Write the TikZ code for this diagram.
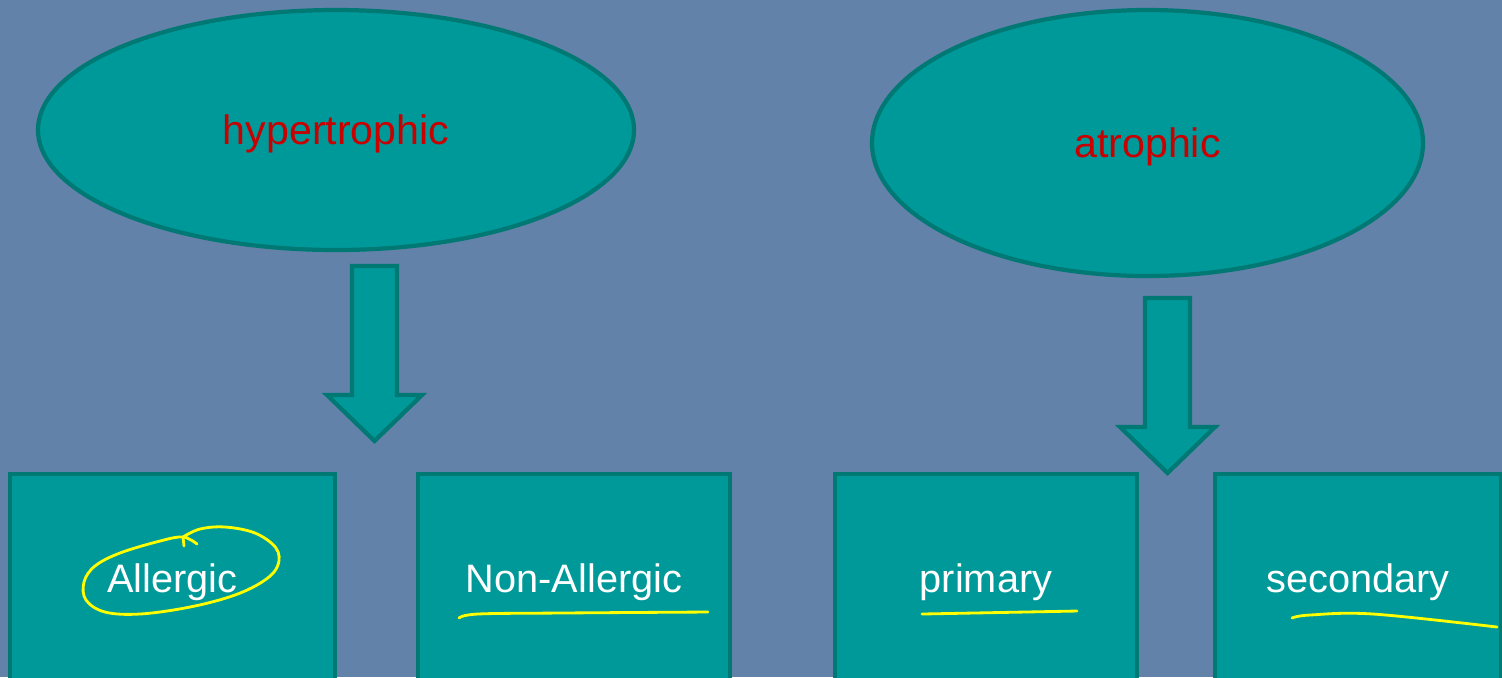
\documentclass[tikz,border=0pt]{standalone}
\usepackage{fontspec}
\setmainfont{Liberation Sans}
\usetikzlibrary{positioning, shapes.geometric}

\definecolor{slidebg}{RGB}{98,130,170}
\definecolor{tealfill}{RGB}{0,153,153}
\definecolor{tealline}{RGB}{0,120,115}
\definecolor{titlered}{RGB}{200,0,0}
\definecolor{penyellow}{RGB}{255,255,0}

% block arrow pointing down: x, top, tip
\newcommand\blockdown[3]{%
  \draw[fatarrow] (#1-0.225,#2) -- (#1+0.225,#2) -- (#1+0.225,#3+0.46)
    -- (#1+0.475,#3+0.46) -- (#1,#3) -- (#1-0.475,#3+0.46)
    -- (#1-0.225,#3+0.46) -- cycle;}

\begin{document}
\begin{tikzpicture}[
    blob/.style={ellipse, draw=tealline, fill=tealfill, line width=1.2pt, outer sep=0pt,
      text=titlered, text height=1.0em, text depth=0.2em, font=\fontsize{11.7}{14}\selectfont},
    kindbox/.style={rectangle, draw=tealline, fill=tealfill, line width=1.2pt, outer sep=0pt,
      text=white, minimum height=2.12cm, text height=0.9em, text depth=0.2em,
      font=\fontsize{11.3}{14}\selectfont},
    fatarrow/.style={draw=tealline, fill=tealfill, line width=1.2pt, line join=miter},
    pen/.style={draw=penyellow, line width=0.8pt, line cap=round, line join=round}
  ]
  \fill[slidebg] (0,0) rectangle (15.02,-6.77);
  \useasboundingbox (0,0) rectangle (15.02,-6.77);

  % the two groups
  \node[blob, minimum width=5.96cm, minimum height=2.40cm] (hyper) at (3.36,-1.30) {hypertrophic};
  \node[blob, minimum width=5.51cm, minimum height=2.66cm] (atro) at (11.475,-1.43) {atrophic};

  \blockdown{3.745}{-2.66}{-4.41}
  \blockdown{11.675}{-2.98}{-4.73}

  % the kinds
  \node[kindbox, minimum width=3.25cm] (allergic) at (1.725,-5.80) {Allergic};
  \node[kindbox, minimum width=3.12cm, right=0.83cm of allergic] (nonallergic) {Non-Allergic};
  \node[kindbox, minimum width=3.02cm, right=1.05cm of nonallergic] (primary) {primary};
  \node[kindbox, minimum width=2.86cm, right=0.78cm of primary] (secondary) {secondary};

  % pen marks
  \draw[pen] plot[smooth, tension=0.6] coordinates {(1.83,-5.37) (2.00,-5.29) (2.25,-5.27)
    (2.55,-5.33) (2.76,-5.48) (2.78,-5.65) (2.65,-5.80) (2.35,-5.95) (1.90,-6.07)
    (1.40,-6.14) (1.05,-6.12) (0.86,-6.00) (0.84,-5.82) (0.95,-5.66) (1.20,-5.53)
    (1.60,-5.41) (1.83,-5.37) (1.97,-5.44)};
  \draw[pen] (1.84,-5.46) -- (1.83,-5.37);
  \draw[pen] plot[smooth, tension=0.6] coordinates {(4.59,-6.18) (4.78,-6.14) (5.60,-6.13) (7.08,-6.12)};
  \draw[pen] (9.22,-6.14) -- (10.77,-6.11);
  \draw[pen] plot[smooth, tension=0.6] coordinates {(12.92,-6.18) (13.10,-6.15) (13.73,-6.14) (14.97,-6.27)};
\end{tikzpicture}
\end{document}
